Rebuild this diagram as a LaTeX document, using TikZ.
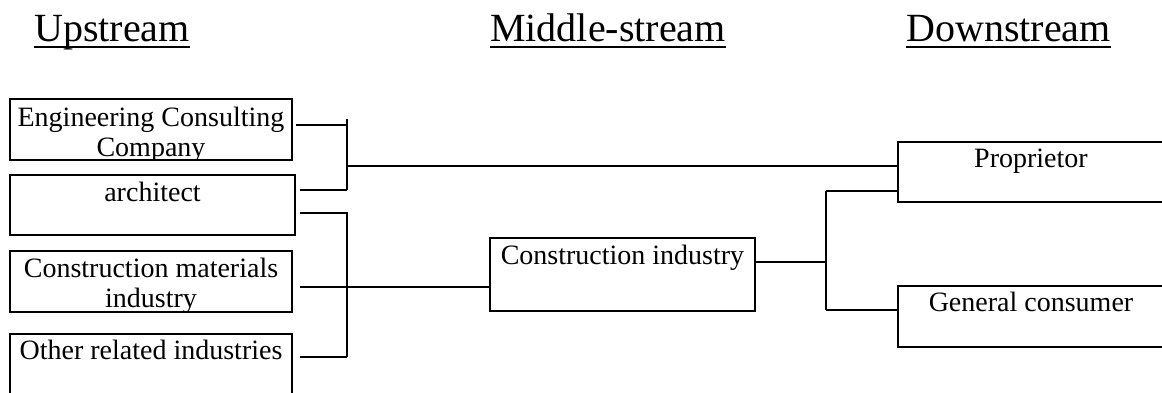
\documentclass[tikz,border=0pt]{standalone}
\usepackage{fontspec}
\setmainfont{Liberation Serif}
\begin{document}
\begin{tikzpicture}[x=1pt,y=1pt,
  box/.style={draw,line width=1.5pt,inner sep=0pt,rectangle},
  conn/.style={line width=1.4pt},
  lbl/.style={anchor=base,inner sep=0pt,font=\fontsize{28}{30}\selectfont},
  hdr/.style={anchor=base,inner sep=0pt,font=\fontsize{40}{44}\selectfont},
  uline/.style={line width=2pt}]
\useasboundingbox (0,0) rectangle (1162,392);
% headers
\node[hdr] (up) at (112,350) {Upstream};
\node[hdr] (mid) at (608,350) {Middle-stream};
\node[hdr] (down) at (1008.5,350) {Downstream};
\foreach \h in {up,mid,down}{
  \draw[uline] ([yshift=-5pt]\h.base west) -- ([yshift=-5pt]\h.base east);
}
% boxes
\node[box,minimum width=282pt,minimum height=61pt] (eng) at (151,262.5) {};
\node[box,minimum width=285pt,minimum height=60pt] (arch) at (152.5,187) {};
\node[box,minimum width=282pt,minimum height=61pt] (mat) at (151,110.5) {};
\node[box,minimum width=282pt,minimum height=61pt] (oth) at (151,27.5) {};
\node[box,minimum width=265pt,minimum height=73pt] (ci) at (622.5,117.5) {};
\node[box,minimum width=268pt,minimum height=60pt] (prop) at (1032,220) {};
\node[box,minimum width=268pt,minimum height=61pt] (gen) at (1032,75.5) {};
% texts
\begin{scope}
  \clip (eng.south west) rectangle (eng.north east);
  \node[lbl] (teng1) at ([yshift=-28pt]eng.north) {Engineering Consulting};
  \node[lbl] (teng2) at ([yshift=-58pt]eng.north) {Company};
\end{scope}
\node[lbl] (tarch) at ([yshift=-27pt]arch.north) {architect};
\begin{scope}
  \clip (mat.south west) rectangle (mat.north east);
  \node[lbl] (tmat1) at ([yshift=-27pt]mat.north) {Construction materials};
  \node[lbl] (tmat2) at ([yshift=-57pt]mat.north) {industry};
\end{scope}
\node[lbl] (toth) at ([yshift=-26pt]oth.north) {Other related industries};
\node[lbl] (tci) at ([yshift=-27pt]ci.north) {Construction industry};
\node[lbl] (tprop) at ([yshift=-26pt,xshift=-1pt]prop.north) {Proprietor};
\node[lbl] (tgen) at ([yshift=-26pt,xshift=-1pt]gen.north) {General consumer};
% bracket coordinates
\coordinate (k1t) at (347,273);
\coordinate (k1b) at (347,202);
\coordinate (k1m) at (347,226);
\coordinate (k2t) at (347,179);
\coordinate (k2b) at (347,35);
\coordinate (cin) at ([yshift=-12.5pt]ci.west);
\coordinate (k3m) at (826,130);
\coordinate (k3t) at (826,201);
\coordinate (k3b) at (826,82);
% connectors
\draw[conn] ([shift={(3pt,4.5pt)}]eng.east) -| (k1t);
\draw[conn] (k1t) -- (k1b);
\draw[conn] ([shift={(4pt,15pt)}]arch.east) -- (k1b);
\draw[conn] (k1m) -- (k1m -| prop.west);
\draw[conn] ([shift={(4pt,-8pt)}]arch.east) -- (k2t) -- (k2b);
\draw[conn] ([shift={(7pt,-5.5pt)}]mat.east) -- (cin);
\draw[conn] ([shift={(7pt,7.5pt)}]oth.east) -- (k2b);
\draw[conn] ([yshift=12.5pt]ci.east) -- (k3m);
\draw[conn] (k3t) -- (k3b);
\draw[conn] (k3t) -- (k3t -| prop.west);
\draw[conn] (k3b) -- (k3b -| gen.west);
\end{tikzpicture}
\end{document}
